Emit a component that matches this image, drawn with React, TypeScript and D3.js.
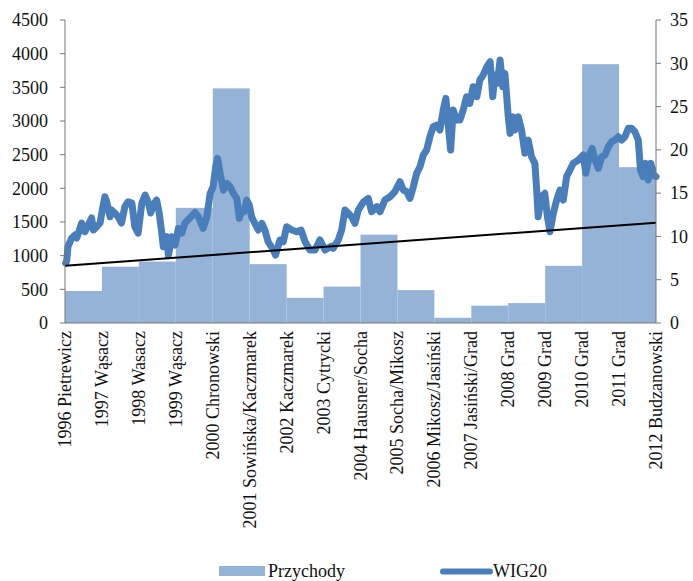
import React from "react";
import * as d3 from "d3";

// categories (years + CEO names)
const categories = [
  "1996 Pietrewicz",
  "1997 Wąsacz",
  "1998 Wasacz",
  "1999 Wąsacz",
  "2000 Chronowski",
  "2001 Sowińska/Kaczmarek",
  "2002 Kaczmarek",
  "2003 Cytrycki",
  "2004 Hausner/Socha",
  "2005 Socha/Mikosz",
  "2006 Mikosz/Jasiński",
  "2007 Jasiński/Grad",
  "2008 Grad",
  "2009 Grad",
  "2010 Grad",
  "2011 Grad",
  "2012 Budzanowski",
];

// Przychody (right axis), one bar per year
const przychody = [3.7, 6.5, 7.1, 13.3, 27.1, 6.8, 2.9, 4.2, 10.2, 3.8, 0.6, 2.0, 2.3, 6.6, 29.9, 18.0];

// WIG20 readings: [year, value]
const wig20: [number, number][] = [
  [1996.02, 890], [1996.05, 935], [1996.08, 1133], [1996.18, 1262], [1996.27, 1307],
  [1996.32, 1262], [1996.45, 1485], [1996.54, 1356], [1996.63, 1455], [1996.72, 1560],
  [1996.77, 1380], [1996.86, 1430], [1996.95, 1485], [1997.01, 1678], [1997.08, 1875],
  [1997.13, 1800], [1997.22, 1578], [1997.26, 1678], [1997.35, 1633], [1997.44, 1578],
  [1997.53, 1485], [1997.62, 1727], [1997.71, 1800], [1997.81, 1780], [1997.89, 1430],
  [1997.98, 1336], [1998.08, 1780], [1998.17, 1900], [1998.25, 1800], [1998.32, 1633],
  [1998.39, 1752], [1998.48, 1826], [1998.55, 1633], [1998.62, 1336], [1998.66, 1133],
  [1998.75, 1282], [1998.8, 1000], [1998.89, 1282], [1998.98, 1158], [1999.07, 1406],
  [1999.16, 1336], [1999.25, 1485], [1999.38, 1560], [1999.52, 1640], [1999.61, 1578],
  [1999.74, 1406], [1999.84, 1578], [1999.93, 1926], [2000.01, 2024], [2000.08, 2321],
  [2000.13, 2445], [2000.2, 2223], [2000.29, 1975], [2000.38, 2074], [2000.47, 2024],
  [2000.56, 1926], [2000.65, 1851], [2000.72, 1555], [2000.78, 1678], [2000.85, 1653],
  [2000.92, 1826], [2000.99, 1752], [2001.05, 1578], [2001.14, 1480], [2001.23, 1381],
  [2001.33, 1480], [2001.41, 1381], [2001.5, 1207], [2001.64, 1084], [2001.7, 1010],
  [2001.82, 1233], [2001.91, 1207], [2002.0, 1430], [2002.14, 1381], [2002.27, 1356],
  [2002.39, 1381], [2002.5, 1207], [2002.63, 1084], [2002.77, 1084], [2002.9, 1233],
  [2003.04, 1084], [2003.22, 1143], [2003.26, 1109], [2003.4, 1233], [2003.49, 1381],
  [2003.58, 1678], [2003.67, 1629], [2003.76, 1578], [2003.85, 1480], [2003.94, 1678],
  [2004.08, 1800], [2004.21, 1851], [2004.3, 1653], [2004.44, 1727], [2004.53, 1653],
  [2004.66, 1826], [2004.8, 1875], [2004.93, 1950], [2005.07, 2098], [2005.16, 1975],
  [2005.25, 1950], [2005.34, 1851], [2005.43, 2024], [2005.52, 2223], [2005.61, 2321],
  [2005.7, 2495], [2005.79, 2569], [2005.88, 2767], [2005.97, 2915], [2006.06, 2940],
  [2006.15, 2866], [2006.24, 3163], [2006.31, 3336], [2006.38, 2915], [2006.44, 2569],
  [2006.51, 3163], [2006.6, 3014], [2006.69, 3014], [2006.78, 3163], [2006.87, 3360],
  [2006.96, 3262], [2007.05, 3509], [2007.15, 3360], [2007.23, 3608], [2007.32, 3682],
  [2007.42, 3806], [2007.51, 3880], [2007.58, 3360], [2007.64, 3682], [2007.7, 3558],
  [2007.78, 3905], [2007.85, 3509], [2007.91, 3707], [2008.0, 3064], [2008.05, 2816],
  [2008.12, 3064], [2008.18, 2866], [2008.27, 3064], [2008.36, 2866], [2008.45, 2520],
  [2008.54, 2717], [2008.63, 2470], [2008.72, 2371], [2008.77, 1975], [2008.81, 1578],
  [2008.9, 1875], [2008.99, 1926], [2009.06, 1578], [2009.13, 1356], [2009.22, 1629],
  [2009.31, 1826], [2009.4, 1975], [2009.49, 1826], [2009.58, 2173], [2009.67, 2272],
  [2009.76, 2371], [2009.9, 2421], [2010.03, 2495], [2010.1, 2223], [2010.21, 2520],
  [2010.27, 2594], [2010.35, 2421], [2010.44, 2297], [2010.53, 2470], [2010.62, 2495],
  [2010.71, 2618], [2010.8, 2692], [2010.89, 2717], [2010.98, 2767], [2011.07, 2717],
  [2011.16, 2767], [2011.25, 2891], [2011.34, 2891], [2011.43, 2841], [2011.52, 2717],
  [2011.58, 2272], [2011.65, 2173], [2011.72, 2371], [2011.79, 2124], [2011.86, 2371],
  [2011.93, 2198], [2012.0, 2173],
];

// linear trend of WIG20 at start and end year
const trendYears = [1996, 2012];
const trendValues = [850, 1490];

const leftTicks = d3.range(0, 4501, 500);
const rightTicks = d3.range(0, 36, 5);

export default function App() {
  const width = 693;
  const height = 581;
  const margin = { top: 20, right: 37, bottom: 258, left: 65 };
  const x0 = margin.left;
  const x1 = width - margin.right;
  const y0 = height - margin.bottom;
  const y1 = margin.top;

  const xCat = d3.scalePoint<string>().domain(categories).range([x0, x1]);
  const xTime = d3.scaleLinear().domain([1996, 2012]).range([x0, x1]);
  const yLeft = d3.scaleLinear().domain([0, 4500]).range([y0, y1]);
  const yRight = d3.scaleLinear().domain([0, 35]).range([y0, y1]);

  const line = d3
    .line<[number, number]>()
    .x((d) => xTime(d[0]))
    .y((d) => yLeft(d[1]));

  const font = "'Liberation Serif', 'Times New Roman', serif";
  const axisColor = "#777";

  return (
    <svg
      width={width}
      height={height}
      style={{ position: "absolute", left: 0, top: 0, background: "#fff" }}
      fontFamily={font}
    >
      {/* bars */}
      {przychody.map((v, i) => {
        const xa = xCat(categories[i])!;
        const xb = xCat(categories[i + 1])!;
        return (
          <rect
            key={i}
            x={xa}
            width={xb - xa}
            y={yRight(v)}
            height={y0 - yRight(v)}
            fill="#95b3d7"
          />
        );
      })}

      {/* WIG20 */}
      <path
        d={line(wig20) || ""}
        fill="none"
        stroke="#4a7ebb"
        strokeWidth={7}
        strokeLinejoin="round"
        strokeLinecap="round"
      />

      {/* trend */}
      <line
        x1={xTime(trendYears[0])}
        x2={xTime(trendYears[1])}
        y1={yLeft(trendValues[0])}
        y2={yLeft(trendValues[1])}
        stroke="#000"
        strokeWidth={2}
      />

      {/* left axis */}
      <line x1={x0} x2={x0} y1={y1} y2={y0} stroke={axisColor} />
      {leftTicks.map((t) => (
        <g key={t} transform={`translate(0,${yLeft(t)})`}>
          <line x1={x0 - 5} x2={x0} stroke={axisColor} />
          <text x={48} dy="0.35em" textAnchor="end" fontSize={18} fill="#111">
            {t}
          </text>
        </g>
      ))}

      {/* right axis */}
      <line x1={x1} x2={x1} y1={y1} y2={y0} stroke={axisColor} />
      {rightTicks.map((t) => (
        <g key={t} transform={`translate(0,${yRight(t)})`}>
          <line x1={x1} x2={x1 + 5} stroke={axisColor} />
          <text x={670} dy="0.35em" textAnchor="start" fontSize={18} fill="#111">
            {t}
          </text>
        </g>
      ))}

      {/* bottom axis */}
      <line x1={x0} x2={x1} y1={y0} y2={y0} stroke={axisColor} />
      {categories.map((c) => (
        <text
          key={c}
          transform={`translate(${xCat(c)! + 6},${y0 + 8}) rotate(-90)`}
          textAnchor="end"
          fontSize={18}
          fill="#111"
        >
          {c}
        </text>
      ))}

      {/* legend */}
      <rect x={219} y={566} width={46} height={10} fill="#95b3d7" />
      <text x={268} y={577} fontSize={18} fill="#111">
        Przychody
      </text>
      <line x1={443} x2={490} y1={571.5} y2={571.5} stroke="#4a7ebb" strokeWidth={6} strokeLinecap="round" />
      <text x={493} y={577} fontSize={18} fill="#111">
        WIG20
      </text>
    </svg>
  );
}
